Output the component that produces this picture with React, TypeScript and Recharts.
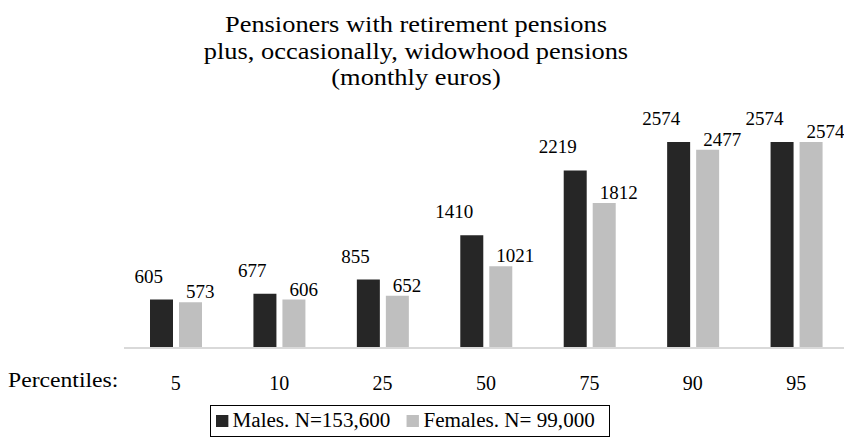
import React from "react";
import { BarChart, Bar, XAxis, YAxis, LabelList } from "recharts";

const percentiles = ["5", "10", "25", "50", "75", "90", "95"];
const males = [605, 677, 855, 1410, 2219, 2574, 2574];
const females = [573, 606, 652, 1021, 1812, 2477, 2574];
const titleLines = [
  "Pensioners with retirement pensions",
  "plus, occasionally, widowhood pensions",
  "(monthly euros)",
];
const maleName = "Males. N=153,600";
const femaleName = "Females. N= 99,000";
const axisLabel = "Percentiles:";

const MALE_COLOR = "#262626";
const FEMALE_COLOR = "#bfbfbf";
const FONT = "'Liberation Serif', 'Times New Roman', serif";

const data = percentiles.map((p, i) => ({ p, m: males[i], f: females[i] }));

const MaleLabel = (props: any) => {
  const { x, y, width, value } = props;
  return (
    <text x={x + width - 10} y={y - 17} textAnchor="end" fontFamily={FONT} fontSize={19} fill="#000">
      {value}
    </text>
  );
};

const FemaleLabel = (props: any) => {
  const { x, y, value } = props;
  return (
    <text x={x + 7} y={y - 4} textAnchor="start" fontFamily={FONT} fontSize={19} fill="#000">
      {value}
    </text>
  );
};

export default function App() {
  return (
    <div
      style={{
        position: "fixed",
        left: 0,
        top: 0,
        width: 844,
        height: 448,
        overflow: "hidden",
        background: "#fff",
        fontFamily: FONT,
      }}
    >
      <div
        style={{
          position: "absolute",
          left: 0,
          top: 11,
          width: 832,
          textAlign: "center",
          fontSize: 24,
          lineHeight: "26.5px",
          color: "#000",
          transform: "scaleX(1.1)",
          transformOrigin: "416px 0",
          whiteSpace: "nowrap",
        }}
      >
        {titleLines.map((t) => (
          <div key={t}>{t}</div>
        ))}
      </div>
      <div style={{ position: "absolute", left: 0, top: 0 }}>
        <BarChart
          width={860}
          height={448}
          data={data}
          margin={{ top: 108, right: 12, bottom: 70, left: 124 }}
          barSize={23}
          barGap={6}
        >
          <XAxis
            dataKey="p"
            height={30}
            tickLine={false}
            axisLine={{ stroke: "#d9d9d9", strokeWidth: 2 }}
            tick={{ fontFamily: FONT, fontSize: 20, fill: "#000" }}
            tickMargin={22}
            interval={0}
          />
          <YAxis hide domain={[0, 3000]} />
          <Bar dataKey="m" fill={MALE_COLOR} isAnimationActive={false}>
            <LabelList dataKey="m" content={<MaleLabel />} />
          </Bar>
          <Bar dataKey="f" fill={FEMALE_COLOR} isAnimationActive={false}>
            <LabelList dataKey="f" content={<FemaleLabel />} />
          </Bar>
        </BarChart>
      </div>
      <div
        style={{
          position: "absolute",
          left: 8,
          top: 367,
          fontSize: 21.5,
          lineHeight: "26px",
          color: "#000",
          transform: "scaleX(1.1)",
          transformOrigin: "0 0",
          whiteSpace: "nowrap",
        }}
      >
        {axisLabel}
      </div>
      <div
        style={{
          position: "absolute",
          left: 210,
          top: 405,
          width: 400,
          height: 32,
          border: "1.5px solid #000",
          boxSizing: "border-box",
        }}
      >
        <div
          style={{
            position: "absolute",
            left: 5,
            top: 0,
            height: 29,
            display: "flex",
            alignItems: "center",
            gap: 16,
            fontSize: 20.5,
            color: "#000",
            whiteSpace: "nowrap",
            transform: "scaleX(1.03)",
            transformOrigin: "0 0",
          }}
        >
          {[
            { name: maleName, color: MALE_COLOR },
            { name: femaleName, color: FEMALE_COLOR },
          ].map((s) => (
            <div key={s.name} style={{ display: "flex", alignItems: "center" }}>
              <span style={{ display: "inline-block", width: 12, height: 12, background: s.color, marginRight: 4 }} />
              <span>{s.name}</span>
            </div>
          ))}
        </div>
      </div>
    </div>
  );
}
